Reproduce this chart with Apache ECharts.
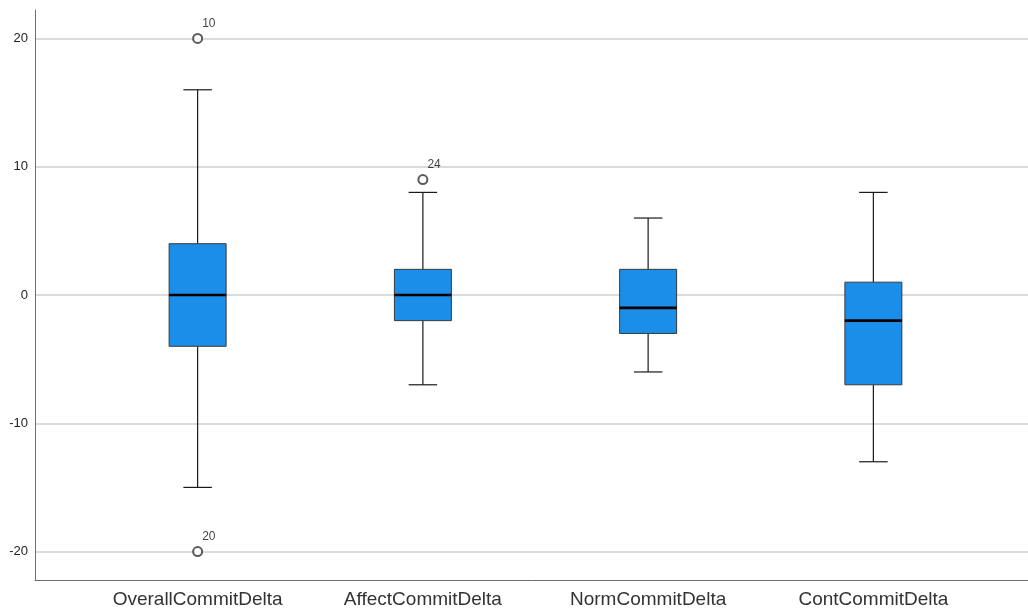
<!DOCTYPE html>
<html><head><meta charset="utf-8">
<script src="https://cdn.jsdelivr.net/npm/echarts@6/dist/echarts.min.js"></script>
<style>html,body{margin:0;padding:0;background:#fff}#c{width:1028px;height:612px}</style>
</head><body><div id="c"></div>
<script>
const categories = ['OverallCommitDelta', 'AffectCommitDelta', 'NormCommitDelta', 'ContCommitDelta'];
const whiskerLow = [-15, -7, -6, -13];
const q1 = [-4, -2, -3, -7];
const median = [0, 0, -1, -2];
const q3 = [4, 2, 2, 1];
const whiskerHigh = [16, 8, 6, 8];
const outlierCat = [0, 0, 1];
const outlierVal = [20, -20, 9];
const outlierCase = ['10', '20', '24'];
const yTicks = [-20, -10, 0, 10, 20];
const yMin = -22.22, yMax = 22.22;

const boxData = categories.map((c, i) => [i, whiskerLow[i], q1[i], median[i], q3[i], whiskerHigh[i]]);
const outData = outlierCat.map((c, i) => ({ value: [c, outlierVal[i]], name: outlierCase[i] }));

const chart = echarts.init(document.getElementById('c'), null, { renderer: 'canvas' });
chart.setOption({
  animation: false,
  backgroundColor: '#fff',
  grid: [
    { left: 35, right: 0, top: 10, bottom: 32 },
    { left: 85, right: 42, top: 10, bottom: 32 }
  ],
  xAxis: [
    { gridIndex: 0, type: 'value', min: 0, max: 1,
      axisLine: { show: true, onZero: false, lineStyle: { color: '#707070', width: 1 } },
      axisTick: { show: false }, axisLabel: { show: false }, splitLine: { show: false } },
    { gridIndex: 1, type: 'category', data: categories, boundaryGap: true,
      axisLine: { show: false, onZero: false }, axisTick: { show: false },
      axisLabel: { color: '#333', fontSize: 19, fontFamily: 'Liberation Sans', margin: 10 } }
  ],
  yAxis: [
    { gridIndex: 0, type: 'value', min: yMin, max: yMax,
      axisLine: { show: true, onZero: false, lineStyle: { color: '#707070', width: 1 } },
      axisTick: { show: false, customValues: yTicks },
      axisLabel: { customValues: yTicks, color: '#222', fontSize: 13, fontFamily: 'Liberation Sans', margin: 7 },
      splitLine: { show: true, customValues: yTicks, lineStyle: { color: '#cfcfcf', width: 1.5 } } },
    { gridIndex: 1, type: 'value', min: yMin, max: yMax, show: false, splitLine: { show: false } }
  ],
  series: [
    {
      type: 'custom', xAxisIndex: 1, yAxisIndex: 1, data: boxData, z: 5,
      renderItem: function (params, api) {
        const x = api.value(0);
        const lo = api.coord([x, api.value(1)]);
        const b1 = api.coord([x, api.value(2)]);
        const md = api.coord([x, api.value(3)]);
        const b3 = api.coord([x, api.value(4)]);
        const hi = api.coord([x, api.value(5)]);
        const bw = api.size([1, 0])[0];
        const boxW = bw * 0.253;
        const capW = boxW / 2;
        const cx = lo[0];
        const ls = { stroke: '#1a1a1a', lineWidth: 1.2 };
        return {
          type: 'group',
          children: [
            { type: 'line', shape: { x1: cx, y1: lo[1], x2: cx, y2: b1[1] }, style: ls },
            { type: 'line', shape: { x1: cx, y1: b3[1], x2: cx, y2: hi[1] }, style: ls },
            { type: 'line', shape: { x1: cx - capW / 2, y1: lo[1], x2: cx + capW / 2, y2: lo[1] }, style: ls },
            { type: 'line', shape: { x1: cx - capW / 2, y1: hi[1], x2: cx + capW / 2, y2: hi[1] }, style: ls },
            { type: 'rect', shape: { x: cx - boxW / 2, y: b3[1], width: boxW, height: b1[1] - b3[1] },
              style: { fill: '#1a8ee8', stroke: '#3a3a3a', lineWidth: 1 } },
            { type: 'line', shape: { x1: cx - boxW / 2, y1: md[1], x2: cx + boxW / 2, y2: md[1] },
              style: { stroke: '#000', lineWidth: 2.6 } }
          ]
        };
      }
    },
    {
      type: 'scatter', xAxisIndex: 1, yAxisIndex: 1, data: outData, z: 6,
      symbol: 'emptyCircle', symbolSize: 9,
      itemStyle: { color: '#333', borderColor: '#333', borderWidth: 1 },
      label: { show: true, formatter: '{b}', position: [10, -15], color: '#111', fontSize: 12, fontFamily: 'Liberation Sans' }
    }
  ]
});
</script></body></html>
